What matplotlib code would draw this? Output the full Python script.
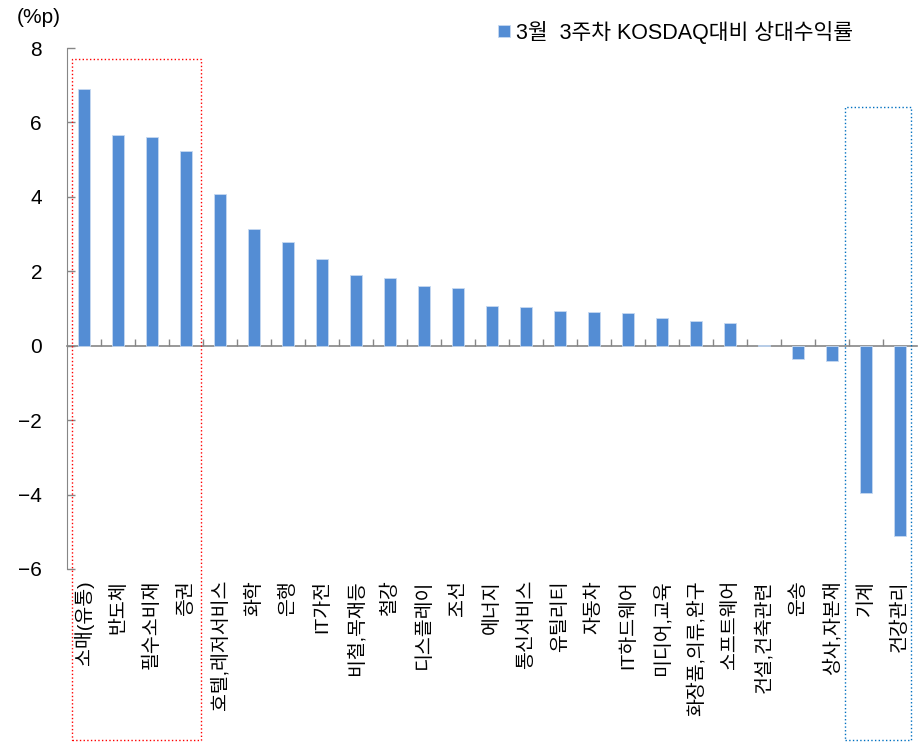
import numpy as np
import matplotlib
matplotlib.use("Agg")
import matplotlib.pyplot as plt
from matplotlib.patches import Rectangle
from matplotlib.ticker import FixedLocator, NullLocator

plt.rcParams['font.family'] = ['Liberation Sans', 'Noto Sans CJK KR', 'DejaVu Sans']

# Sector labels and relative return vs KOSDAQ (%p)
sectors = ["소매(유통)", "반도체", "필수소비재", "증권", "호텔,레저서비스", "화학", "은행",
           "IT가전", "비철,목재등", "철강", "디스플레이", "조선", "에너지", "통신서비스",
           "유틸리티", "자동차", "IT하드웨어", "미디어,교육", "화장품,의류,완구", "소프트웨어",
           "건설,건축관련", "운송", "상사,자본재", "기계", "건강관리"]
rel_ret = [6.91, 5.67, 5.62, 5.22, 4.07, 3.14, 2.79, 2.34, 1.89, 1.81, 1.60, 1.55, 1.06,
           1.03, 0.93, 0.91, 0.87, 0.74, 0.66, 0.60, 0.01, -0.37, -0.42, -3.95, -5.11]
legend_label = "3월  3주차 KOSDAQ대비 상대수익률"

bar_color = "#548DD4"
grey = "#868686"

fig = plt.figure(figsize=(9.22, 7.47), dpi=100)
ax = fig.add_axes([0.0727, 0.2383, 0.9219, 0.6974])

x = np.arange(len(sectors))
ax.bar(x, rel_ret, width=0.33, color=bar_color, edgecolor="#c6d9f1", linewidth=0.6,
       label=legend_label, zorder=3)

ax.set_xlim(-0.5, len(sectors) - 0.5)
ax.set_ylim(-6, 8)
ax.set_yticks(np.arange(-6, 9, 2))
ax.tick_params(axis='y', direction='in', length=6, width=1, color=grey,
               labelsize=15, pad=18)

for s in ["top", "right"]:
    ax.spines[s].set_visible(False)
ax.spines["left"].set_color(grey)
ax.spines["bottom"].set_position(("data", 0))
ax.spines["bottom"].set_color(grey)
ax.spines["bottom"].set_linewidth(1.2)
ax.xaxis.set_major_locator(NullLocator())
ax.xaxis.set_minor_locator(FixedLocator(np.arange(0.5, len(sectors) - 0.5, 1)))
ax.tick_params(axis='x', which='minor', direction='in', length=5, width=1, color=grey)

# category labels along the bottom of the plot area
sec = ax.secondary_xaxis('bottom')
sec.set_xticks(x)
sec.set_xticklabels(sectors, rotation=90, fontsize=14)
sec.tick_params(length=0, pad=8)
sec.spines['bottom'].set_visible(False)

# highlight boxes (top / bottom groups)
ax.add_patch(Rectangle((-0.35, -10.6), 3.79, 18.31, fill=False, edgecolor="red",
                       linestyle=":", linewidth=1.0, clip_on=False, zorder=5))
ax.add_patch(Rectangle((22.38, -10.6), 1.94, 17.02, fill=False, edgecolor="#0070C0",
                       linestyle=":", linewidth=1.0, clip_on=False, zorder=5))

fig.text(0.018, 0.976, "(%p)", fontsize=15, va="center", ha="left")

ax.legend(loc="center left", bbox_to_anchor=(0.531, 0.957), bbox_transform=fig.transFigure,
          frameon=False, fontsize=15.5, handlelength=0.55, handleheight=0.55,
          handletextpad=0.3, borderaxespad=0)

fig.savefig("out.png", dpi=100)
